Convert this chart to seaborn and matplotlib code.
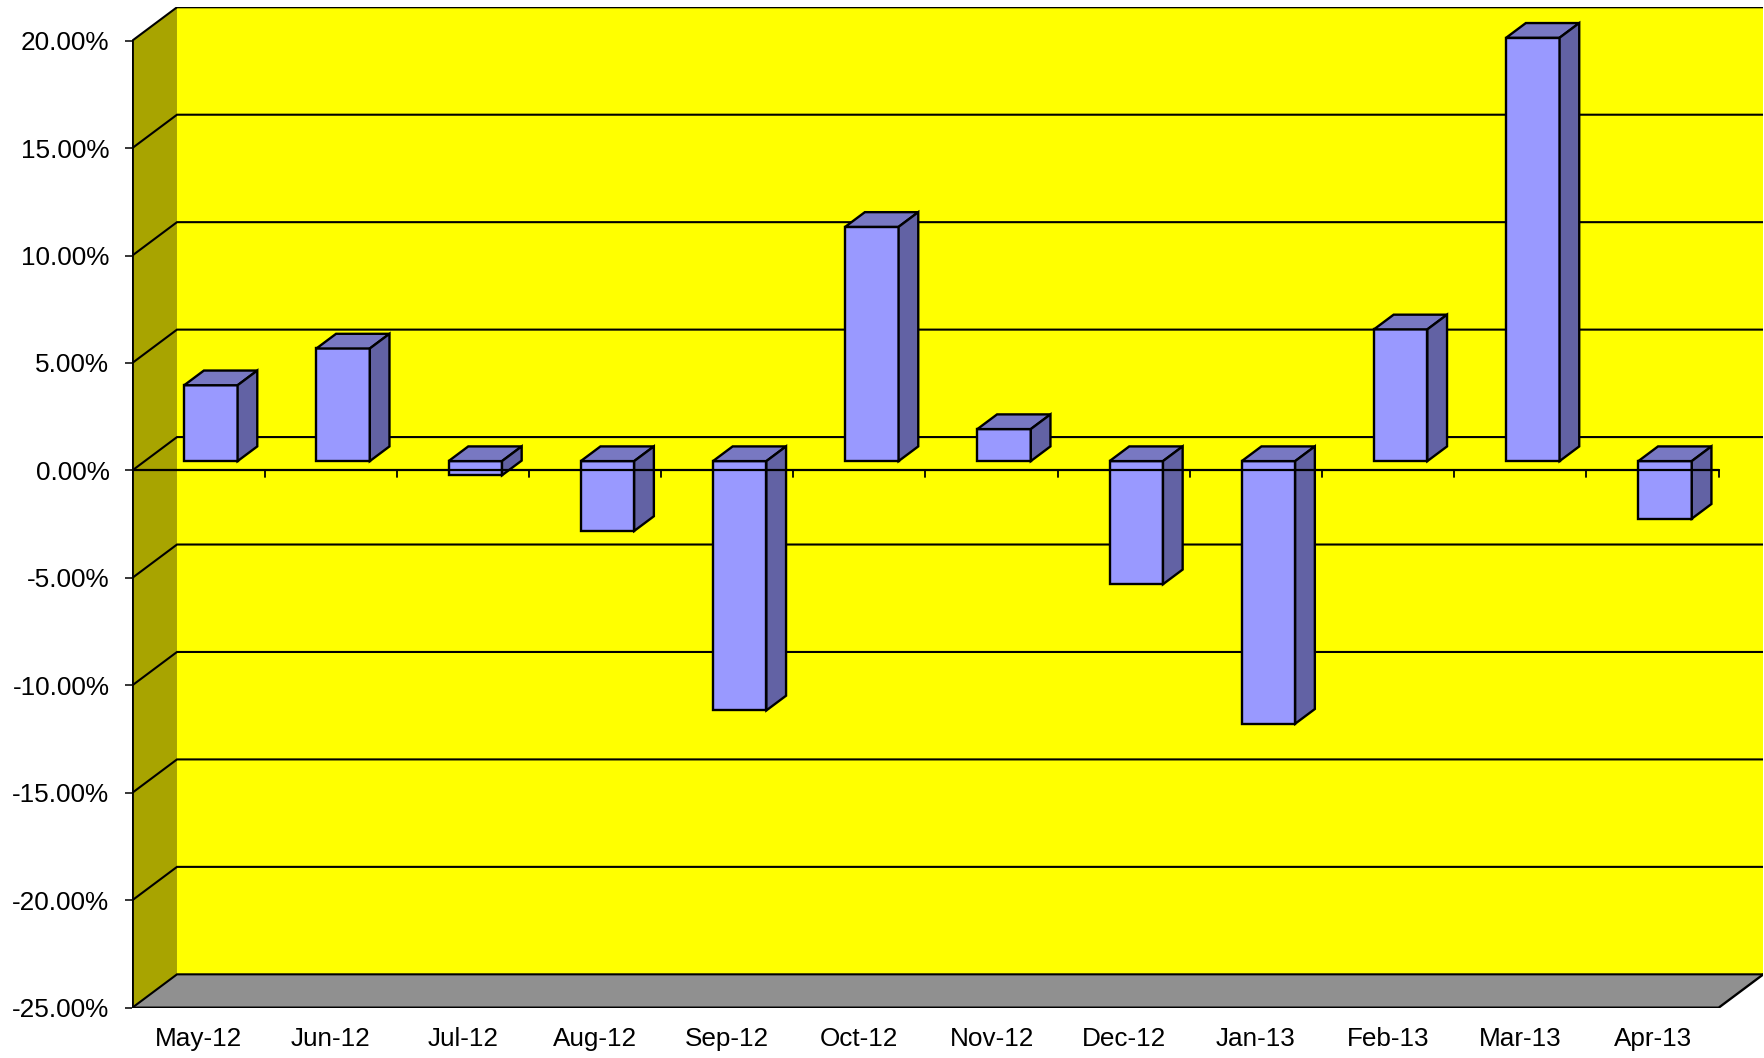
import numpy as np
import matplotlib
matplotlib.use('Agg')
import matplotlib.pyplot as plt
import seaborn as sns

# monthly returns in percent
months = ['May-12', 'Jun-12', 'Jul-12', 'Aug-12', 'Sep-12', 'Oct-12',
          'Nov-12', 'Dec-12', 'Jan-13', 'Feb-13', 'Mar-13', 'Apr-13']
returns = [3.53, 5.24, -0.66, -3.25, -11.60, 10.90,
           1.49, -5.73, -12.22, 6.13, 19.70, -2.68]
y_ticks = [-25, -20, -15, -10, -5, 0, 5, 10, 15, 20]

sns.set_theme(style='white')
plt.rcParams['font.family'] = ['Liberation Sans', 'DejaVu Sans']

# fake 3d: depth shift of the walls in data units
dxw = 0.338
dyw = 1.553
ymin, ymax = y_ticks[0], y_ticks[-1]
n = len(months)

wall_yellow = '#FFFF00'
wall_side = '#A8A400'
floor_grey = '#909090'
face_front = '#9999FF'
face_top = '#7878C2'
face_side = '#6262A4'

fig = plt.figure(figsize=(17.65, 10.58), dpi=100)
ax = fig.add_axes([0.07496, 0.04754, 0.9241, 0.9456])
ax.set_xlim(0, n + dxw)
ax.set_ylim(ymin, ymax + dyw)
for s in ax.spines.values():
    s.set_visible(False)

# walls and floor
ax.fill([dxw, n + dxw, n + dxw, dxw], [ymin + dyw, ymin + dyw, ymax + dyw, ymax + dyw],
        color=wall_yellow, lw=0, zorder=0)
ax.fill([0, dxw, dxw, 0], [ymin, ymin + dyw, ymax + dyw, ymax],
        color=wall_side, lw=0, zorder=0)
ax.fill([0, n, n + dxw, dxw], [ymin, ymin, ymin + dyw, ymin + dyw],
        color=floor_grey, lw=0, zorder=0)

# gridlines on side wall and back wall
for t in y_ticks:
    ax.plot([0, dxw, n + dxw], [t, t + dyw, t + dyw], color='black', lw=1.5, zorder=1,
            solid_joinstyle='miter')

# outer edges
ax.plot([0, 0], [ymin, ymax], color='black', lw=2.0, zorder=1)
ax.plot([0, n, n + dxw], [ymin, ymin, ymin + dyw], color='black', lw=1.7, zorder=1)

# bars
f0, f1 = 0.28, 0.72
hw = 0.202
for i, v in enumerate(returns):
    c = i + 0.5
    lo, hi = min(v, 0), max(v, 0)
    x0, x1 = c - hw + f0 * dxw, c + hw + f0 * dxw
    sx, sy = (f1 - f0) * dxw, (f1 - f0) * dyw
    yb, yt = lo + f0 * dyw, hi + f0 * dyw
    kw = dict(edgecolor='black', lw=1.7, joinstyle='miter', zorder=2)
    ax.fill([x0, x1, x1, x0], [yb, yb, yt, yt], facecolor=face_front, **kw)
    ax.fill([x0, x1, x1 + sx, x0 + sx], [yt, yt, yt + sy, yt + sy], facecolor=face_top, **kw)
    ax.fill([x1, x1 + sx, x1 + sx, x1], [yb, yb + sy, yt + sy, yt], facecolor=face_side, **kw)

# category axis on the zero line
ax.plot([0, n], [0, 0], color='black', lw=1.6, zorder=3)
for k in range(1, n + 1):
    ax.plot([k, k], [0, -0.3], color='black', lw=1.3, zorder=3)

ax.set_yticks(y_ticks)
ax.set_yticklabels([f'{t:.2f}%' for t in y_ticks])
ax.set_xticks(np.arange(n) + 0.5)
ax.set_xticklabels(months)
ax.tick_params(axis='y', left=True, length=5, width=1.1, color='black', pad=11.5,
               labelsize=18.8, labelcolor='black')
ax.tick_params(axis='x', bottom=False, length=0, pad=14, labelsize=18.8, labelcolor='black')
ax.grid(False)

fig.savefig('out.png', dpi=100, facecolor='white')
